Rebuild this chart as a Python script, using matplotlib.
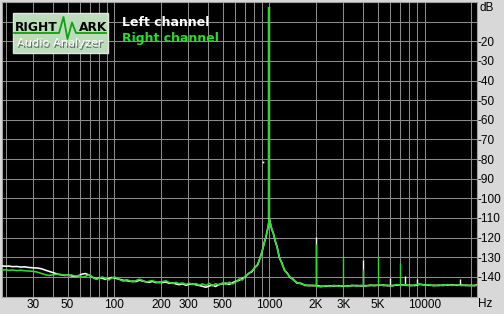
import numpy as np
import matplotlib
matplotlib.use("Agg")
import matplotlib.pyplot as plt
from matplotlib.patches import Rectangle

# spectrum, Hz / dB
freqs = [18.8, 20, 21, 22, 23.5, 25, 26.5, 28, 30, 32, 34, 36, 38, 40, 42, 44, 46, 48, 50,
         53, 56, 59, 62, 65, 68, 71, 74, 77, 80, 84, 88, 92, 96, 100, 105, 110, 115, 120,
         126, 132, 138, 145, 152, 160, 168, 176, 185, 195, 205, 215, 226, 238, 250, 262,
         275, 290, 305, 320, 336, 353, 370, 390, 410, 430, 450, 475, 500, 525, 550, 580,
         610, 640, 670, 700, 735, 770, 805, 840, 870, 900, 925, 950, 970, 985, 1000, 1015,
         1035, 1060, 1090, 1120, 1160, 1200, 1250, 1300, 1360, 1420, 1500, 1600, 1700,
         1800, 1900, 2000, 2150, 2300, 2450, 2600, 2800, 3000, 3200, 3400, 3650, 3900,
         4150, 4450, 4750, 5100, 5450, 5800, 6200, 6600, 7100, 7600, 8100, 8700, 9300,
         10000, 10700, 11500, 12300, 13200, 14100, 15100, 16200, 17300, 18500, 19800,
         21000, 21700]

right_db = [-136.5, -136.4, -136.7, -136.5, -136.8, -136.6, -136.9, -137.0, -137.2, -137.6,
            -138.3, -138.9, -139.3, -139.0, -138.7, -138.6, -138.9, -139.1, -139.3,
            -139.0, -139.6, -139.3, -140.2, -139.8, -139.0, -139.6, -140.8, -141.3, -140.6,
            -140.0, -140.9, -141.6, -140.7, -140.1, -140.6, -141.7, -142.2, -141.4,
            -142.0, -142.6, -141.9, -141.2, -141.8, -142.7, -142.2, -141.9, -142.6, -143.1,
            -142.4, -142.0, -142.9, -143.4, -142.8, -143.5, -143.1, -143.8, -143.2, -143.9,
            -143.4, -144.2, -143.6, -144.4, -143.3, -144.6, -143.5, -144.1, -143.0, -143.9,
            -142.7, -143.6, -142.5, -141.0, -141.6, -139.5, -138.5, -137.0, -135.5, -133.5,
            -130.5, -126.5, -123.0, -119.5, -116.5, -113.5, -110.2, -113.0, -115.5, -118.0,
            -121.5, -125.0, -130.0, -133.0, -136.3, -138.3, -140.0, -141.5, -142.8, -143.6,
            -144.1, -144.6, -144.2, -144.7, -145.1, -144.5, -144.9, -144.3, -144.8, -144.5,
            -144.9, -144.2, -144.7, -144.3, -144.8, -144.1, -144.6, -144.0, -144.5, -144.2,
            -144.7, -143.9, -144.4, -144.0, -144.6, -144.1, -143.6, -144.3, -144.0, -144.6,
            -144.1, -144.5, -143.9, -144.4, -144.0, -144.5, -144.1, -144.6, -144.2, -144.4]

left_db = [-134.4, -134.6, -134.5, -134.8, -134.7, -135.0, -134.9, -135.2, -135.4, -135.5,
           -135.9, -136.6, -137.2, -137.8, -138.3, -138.8, -139.0, -139.3, -139.1,
           -139.5, -139.8, -139.4, -138.6, -138.3, -138.9, -139.8, -140.6, -141.0, -140.4,
           -140.8, -141.3, -140.9, -140.3, -140.5, -141.0, -141.4, -141.8, -141.9,
           -142.3, -142.2, -142.4, -141.7, -142.1, -142.5, -142.8, -142.3, -142.9, -142.7,
           -142.9, -142.6, -143.3, -143.1, -143.6, -144.0, -143.5, -144.3, -143.7, -143.6,
           -144.0, -144.4, -144.8, -145.3, -144.6, -144.2, -144.9, -143.8, -143.5, -143.2,
           -143.9, -142.9, -142.2, -141.7, -140.8, -139.9, -138.2, -137.4, -135.2, -133.9,
           -130.2, -126.8, -122.7, -119.8, -116.2, -113.8, -110.5, -112.8, -115.8, -117.7,
           -121.8, -124.6, -130.3, -132.7, -136.6, -138.0, -140.3, -141.2, -143.1, -143.3,
           -144.4, -144.3, -144.5, -144.4, -144.8, -144.8, -144.6, -144.6, -144.5, -144.8,
           -144.6, -144.5, -144.4, -144.6, -144.5, -144.4, -144.3, -144.3, -144.2, -144.5,
           -144.4, -144.2, -144.1, -144.3, -144.3, -144.4, -143.8, -144.1, -144.3, -144.3,
           -144.4, -144.2, -144.2, -144.1, -144.3, -144.2, -144.4, -144.3, -144.5, -144.1]

tone_f = 1000
tone_db = -2.8

# harmonics / spurs
right_spur_f = [2000, 3000, 4000, 5000, 7000]
right_spur_db = [-123.1, -129.6, -135.9, -130.0, -132.7]
left_spur_f = [2000, 4000, 6000, 7500, 9000, 17000]
left_spur_db = [-119.7, -131.6, -140.4, -139.5, -141.0, -141.3]

stray_f = [910]
stray_db = [-81.5]

xtick_vals = [30, 50, 100, 200, 300, 500, 1000, 2000, 3000, 5000, 10000]
xtick_labels = ['30', '50', '100', '200', '300', '500', '1000', '2K', '3K', '5K', '10000']
ytick_vals = list(range(-20, -150, -10))

white = '#ffffff'
green = '#2cdc2c'
gridc = '#8c8c8c'

fig = plt.figure(figsize=(5.04, 3.14), dpi=100)
fig.patch.set_facecolor('#d8d8d8')
W, H = 504, 314
ax = fig.add_axes([1.7 / W, 1 - 296.5 / H, 475 / W, 294.5 / H])
ax.set_facecolor('black')
ax.set_xscale('log')
ax.set_xlim(18.8, 21700)
ax.set_ylim(-150, 0)

# grid
for k in range(1, 5):
    for d in range(1, 10):
        g = d * 10 ** k
        if 18.8 < g < 21700:
            ax.axvline(g, color=gridc, lw=0.75, zorder=1)
for yv in range(-140, 0, 10):
    ax.axhline(yv, color=gridc, lw=0.75, zorder=1)

f = np.array(freqs)
ax.plot(f, left_db, color=white, lw=1.15, zorder=3)
ax.vlines(left_spur_f, np.interp(left_spur_f, f, left_db), left_spur_db, color=white, lw=1.0, zorder=3)
ax.vlines([tone_f], -110.5, tone_db, color=white, lw=1.6, zorder=3)
ax.plot(f, right_db, color=green, lw=1.15, zorder=4)
ax.vlines(right_spur_f, np.interp(right_spur_f, f, right_db), right_spur_db, color=green, lw=1.0, zorder=4)
ax.vlines([tone_f], -110.2, tone_db, color=green, lw=1.6, zorder=4)
ax.plot(stray_f, stray_db, 's', color=white, ms=1.2, mew=0, zorder=5)

ax.set_xticks(xtick_vals)
ax.set_xticklabels(xtick_labels)
ax.xaxis.set_minor_locator(matplotlib.ticker.NullLocator())
ax.yaxis.tick_right()
ax.set_yticks(ytick_vals)
ax.set_yticklabels([str(v) for v in ytick_vals])
ax.tick_params(length=0, labelsize=8.5, colors='black', pad=1.5)
ax.tick_params(axis='y', pad=0.5)
for lab in ax.get_xticklabels() + ax.get_yticklabels():
    lab.set_fontfamily('Liberation Sans')
for s in ax.spines.values():
    s.set_color('#a0a0a0')
    s.set_linewidth(0.8)

# overlay in pixel coordinates for logo, legend and unit labels
ov = fig.add_axes([0, 0, 1, 1], zorder=10)
ov.set_xlim(0, W)
ov.set_ylim(H, 0)
ov.axis('off')
ov.patch.set_alpha(0)

ov.text(480, 8, 'dB', fontsize=8.5, family='Liberation Sans', va='center', ha='left')
ov.text(478, 304, 'Hz', fontsize=8.5, family='Liberation Sans', va='center', ha='left')

ov.add_patch(Rectangle((12.5, 12.5), 95, 40, facecolor='#bcdcbc', edgecolor='#e4e4e4', lw=1.0))
ov.plot([14, 59, 63.5, 67.5, 72, 76, 106], [33, 33, 17, 39, 22.5, 33, 33], color='#10a010', lw=1.3)
ov.text(15, 27.5, 'RIGHT', fontsize=8.8, weight='bold', color='black', va='center', ha='left')
ov.text(79, 27.5, 'ARK', fontsize=8.8, weight='bold', color='black', va='center', ha='left')
ov.text(61, 44.5, 'Audio Analyzer', fontsize=8.2, color='#6a6a6a', va='center', ha='center')
ov.text(60, 43.5, 'Audio Analyzer', fontsize=8.2, color='white', va='center', ha='center')

ov.text(122, 22.5, 'Left channel', fontsize=9, weight='bold', color=white, va='center', ha='left')
ov.text(122, 38.5, 'Right channel', fontsize=9, weight='bold', color=green, va='center', ha='left')

fig.savefig('out.png', dpi=100, facecolor=fig.get_facecolor())
